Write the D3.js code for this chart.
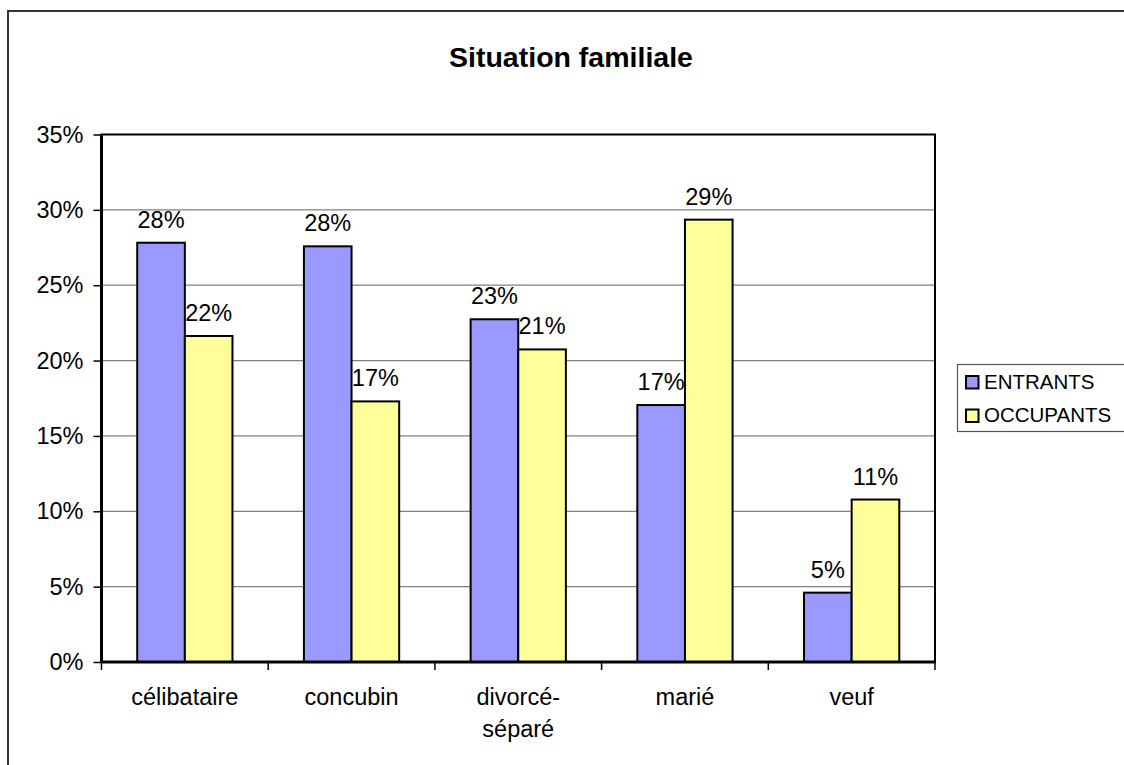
<!DOCTYPE html>
<html>
<head>
<meta charset="utf-8">
<script src="https://cdn.jsdelivr.net/npm/d3@7/dist/d3.min.js"></script>
<style>
  html, body { margin: 0; padding: 0; background: #fff; }
  svg { display: block; font-family: "Liberation Sans", Arial, sans-serif; }
</style>
</head>
<body>
<svg id="chart" width="1124" height="765"></svg>
<script>
const title = "Situation familiale";
const categories = ["célibataire", "concubin", "divorcé-\nséparé", "marié", "veuf"];
const seriesNames = ["ENTRANTS", "OCCUPANTS"];
const entrants = [0.2782, 0.2758, 0.2274, 0.1705, 0.0460];
const occupants = [0.2163, 0.1729, 0.2074, 0.2935, 0.1078];
const yTicks = [0, 0.05, 0.10, 0.15, 0.20, 0.25, 0.30, 0.35];
const colors = ["#9999FF", "#FFFF99"];

const seriesValues = [entrants, occupants];
const data = categories.map((c, i) => ({
  cat: c,
  values: seriesNames.map((s, j) => ({ series: s, value: seriesValues[j][i] }))
}));

const svg = d3.select("#chart");
const W = 1124, H = 765;
const plot = { left: 101.5, right: 935, top: 134.5, bottom: 662 };

// outer frame
svg.append("rect")
  .attr("x", 8).attr("y", 11)
  .attr("width", W + 20).attr("height", H + 20)
  .attr("fill", "#fff").attr("stroke", "#333").attr("stroke-width", 2);

// title
svg.append("text")
  .attr("x", 571).attr("y", 67)
  .attr("text-anchor", "middle")
  .attr("font-size", 28.5).attr("font-weight", "bold")
  .text(title);

const x0 = d3.scaleBand().domain(categories).range([plot.left, plot.right]).padding(0);
const x1 = d3.scaleBand().domain(seriesNames).range([0, x0.bandwidth()]).paddingInner(0).paddingOuter(0.75);
const y = d3.scaleLinear().domain([0, 0.35]).range([plot.bottom, plot.top]);
const color = d3.scaleOrdinal().domain(seriesNames).range(colors);
const pct = d3.format(".0%");

// gridlines
svg.append("g").selectAll("line")
  .data(yTicks.filter(t => t > 0 && t < 0.35))
  .join("line")
  .attr("x1", plot.left).attr("x2", plot.right)
  .attr("y1", d => y(d)).attr("y2", d => y(d))
  .attr("stroke", "#808080").attr("stroke-width", 1.2);

// y axis
const yAxis = svg.append("g")
  .attr("transform", `translate(${plot.left},0)`)
  .call(d3.axisLeft(y).tickValues(yTicks).tickFormat(d3.format(".0%")).tickSize(8).tickPadding(10));
yAxis.select(".domain").remove();
yAxis.selectAll(".tick line").attr("stroke", "#000").attr("stroke-width", 1.5);
yAxis.selectAll(".tick text").attr("font-size", 23.5).attr("fill", "#000")
  .attr("font-family", "Liberation Sans, Arial, sans-serif");

// bars
const groups = svg.append("g").selectAll("g")
  .data(data).join("g")
  .attr("transform", d => `translate(${x0(d.cat)},0)`);

groups.selectAll("rect")
  .data(d => d.values).join("rect")
  .attr("x", d => x1(d.series))
  .attr("y", d => y(d.value))
  .attr("width", x1.bandwidth())
  .attr("height", d => y(0) - y(d.value))
  .attr("fill", d => color(d.series))
  .attr("stroke", "#000").attr("stroke-width", 2);

groups.selectAll("text.lbl")
  .data(d => d.values).join("text")
  .attr("class", "lbl")
  .attr("x", d => x1(d.series) + x1.bandwidth() / 2)
  .attr("y", d => y(d.value) - 15)
  .attr("text-anchor", "middle")
  .attr("font-size", 23.5)
  .text(d => pct(d.value));

// plot border
svg.append("rect")
  .attr("x", plot.left).attr("y", plot.top)
  .attr("width", plot.right - plot.left).attr("height", plot.bottom - plot.top)
  .attr("fill", "none").attr("stroke", "#000").attr("stroke-width", 2);
svg.append("line")
  .attr("x1", plot.left).attr("x2", plot.left)
  .attr("y1", plot.top).attr("y2", plot.bottom)
  .attr("stroke", "#000").attr("stroke-width", 3);
svg.append("line")
  .attr("x1", plot.left).attr("x2", plot.right)
  .attr("y1", plot.bottom).attr("y2", plot.bottom)
  .attr("stroke", "#000").attr("stroke-width", 3);

// x ticks at category boundaries
const boundaries = categories.map(c => x0(c)).concat([x0.range()[1]]);
svg.append("g").selectAll("line")
  .data(boundaries).join("line")
  .attr("x1", d => d).attr("x2", d => d)
  .attr("y1", plot.bottom).attr("y2", plot.bottom + 8)
  .attr("stroke", "#000").attr("stroke-width", 1.5);

// x labels
const xl = svg.append("g").selectAll("text")
  .data(categories).join("text")
  .attr("x", d => x0(d) + x0.bandwidth() / 2)
  .attr("y", 705)
  .attr("text-anchor", "middle")
  .attr("font-size", 23.5);
xl.each(function(d) {
  const t = d3.select(this);
  const x = x0(d) + x0.bandwidth() / 2;
  d.split("\n").forEach((line, i) => {
    t.append("tspan").attr("x", x).attr("dy", i === 0 ? 0 : 32).text(line);
  });
});

// legend
const lg = svg.append("g");
lg.append("rect")
  .attr("x", 957.5).attr("y", 364.5)
  .attr("width", 200).attr("height", 67)
  .attr("fill", "#fff").attr("stroke", "#555").attr("stroke-width", 1.2);
seriesNames.forEach((s, i) => {
  lg.append("rect")
    .attr("x", 966).attr("y", 376 + i * 33.5)
    .attr("width", 12.5).attr("height", 12.5)
    .attr("fill", color(s)).attr("stroke", "#000").attr("stroke-width", 2);
  lg.append("text")
    .attr("x", 984).attr("y", 388.5 + i * 33.5)
    .attr("font-size", 20.5)
    .text(s);
});
</script>
</body>
</html>
